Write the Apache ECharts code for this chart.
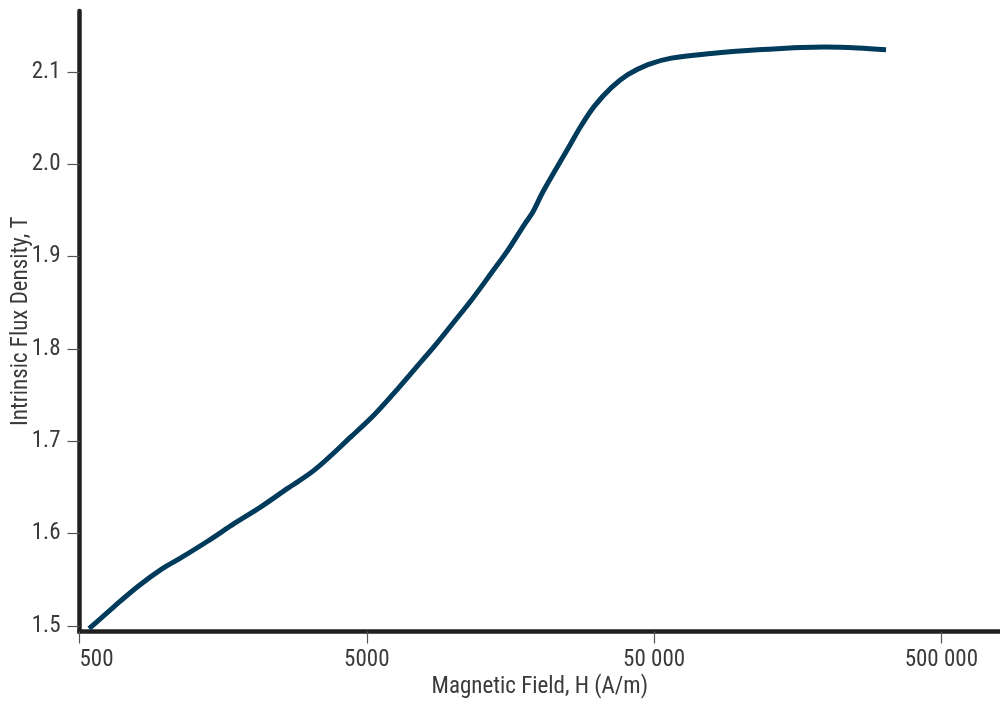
<!DOCTYPE html>
<html>
<head>
<meta charset="utf-8">
<script src="https://cdn.jsdelivr.net/npm/echarts@6/dist/echarts.min.js"></script>
<style>
html,body{margin:0;padding:0;background:#fff;}
#chart{width:1000px;height:704px;}
</style>
</head>
<body>
<div id="chart"></div>
<script>
// Magnetic field H (A/m)
const fieldH = [540, 660, 800, 960, 1130, 1400, 1730, 2140, 2650, 3290, 4410, 5320, 6250, 7330, 8600, 10100, 11700, 13550, 15500, 17700, 18900, 20500, 25400, 27900, 31000, 35500, 40500, 47600, 57400, 79000, 115000, 196000, 256000, 321000];
// Intrinsic flux density B (T)
const fluxB = [1.497, 1.521, 1.543, 1.561, 1.574, 1.592, 1.611, 1.629, 1.649, 1.669, 1.705, 1.729, 1.753, 1.778, 1.803, 1.830, 1.855, 1.882, 1.907, 1.935, 1.948, 1.970, 2.020, 2.042, 2.063, 2.083, 2.097, 2.108, 2.115, 2.120, 2.124, 2.127, 2.126, 2.124];
const xTickValues = [500, 5000, 50000, 500000];
const xTickLabels = ['500', '5000', '50 000', '500 000'];
const yTickValues = [1.5, 1.6, 1.7, 1.8, 1.9, 2.0, 2.1];
const yTickLabels = ['1.5', '1.6', '1.7', '1.8', '1.9', '2.0', '2.1'];
const xRange = [500, 800000];
const yRange = [1.494, 2.166];

const FONT = "'Liberation Sans Narrow', 'Roboto Condensed', 'DejaVu Sans Condensed', sans-serif";
const TEXT = '#3a3a3a';
const AXIS = '#231f20';

const lg = v => Math.log10(v);
const xTickLog = xTickValues.map(lg);
const data = fieldH.map((h, i) => [lg(h), fluxB[i]]);

function xLabel(v) {
  for (let i = 0; i < xTickLog.length; i++) {
    if (Math.abs(xTickLog[i] - v) < 1e-6) return xTickLabels[i];
  }
  return '';
}
function yLabel(v) {
  for (let i = 0; i < yTickValues.length; i++) {
    if (Math.abs(yTickValues[i] - v) < 1e-6) return yTickLabels[i];
  }
  return '';
}

const chart = echarts.init(document.getElementById('chart'), null, {renderer: 'canvas'});
chart.setOption({
  animation: false,
  backgroundColor: '#fff',
  grid: {left: 79.5, right: 0, top: 11, bottom: 72.5, containLabel: false, outerBoundsMode: 'none'},
  xAxis: {
    type: 'value',
    min: lg(xRange[0]),
    max: lg(xRange[1]),
    name: 'Magnetic Field, H (A/m)',
    nameLocation: 'middle',
    nameGap: 44,
    nameMoveOverlap: false,
    nameTextStyle: {fontFamily: FONT, fontSize: 23, color: TEXT},
    axisLine: {show: true, lineStyle: {color: AXIS, width: 4.5, cap: 'square'}},
    axisTick: {show: true, length: 12, customValues: xTickLog, lineStyle: {color: '#555', width: 1.2}},
    axisLabel: {
      customValues: xTickLog,
      formatter: xLabel,
      fontFamily: FONT, fontSize: 23, color: TEXT, margin: 17,
      alignMinLabel: 'left'
    },
    splitLine: {show: false}
  },
  yAxis: {
    type: 'value',
    min: yRange[0],
    max: yRange[1],
    name: 'Intrinsic Flux Density, T',
    nameLocation: 'middle',
    nameGap: 47,
    nameMoveOverlap: false,
    nameTextStyle: {fontFamily: FONT, fontSize: 23, color: TEXT},
    axisLine: {show: true, lineStyle: {color: AXIS, width: 4.5}},
    axisTick: {show: true, length: 12, customValues: yTickValues, lineStyle: {color: '#555', width: 1.2}},
    axisLabel: {
      customValues: yTickValues,
      formatter: yLabel,
      fontFamily: FONT, fontSize: 23, color: TEXT, margin: 19
    },
    splitLine: {show: false}
  },
  series: [{
    type: 'line',
    data: data,
    smooth: 0.35,
    showSymbol: false,
    clip: false,
    lineStyle: {color: '#003b5c', width: 5, cap: 'butt'}
  }]
});
</script>
</body>
</html>
